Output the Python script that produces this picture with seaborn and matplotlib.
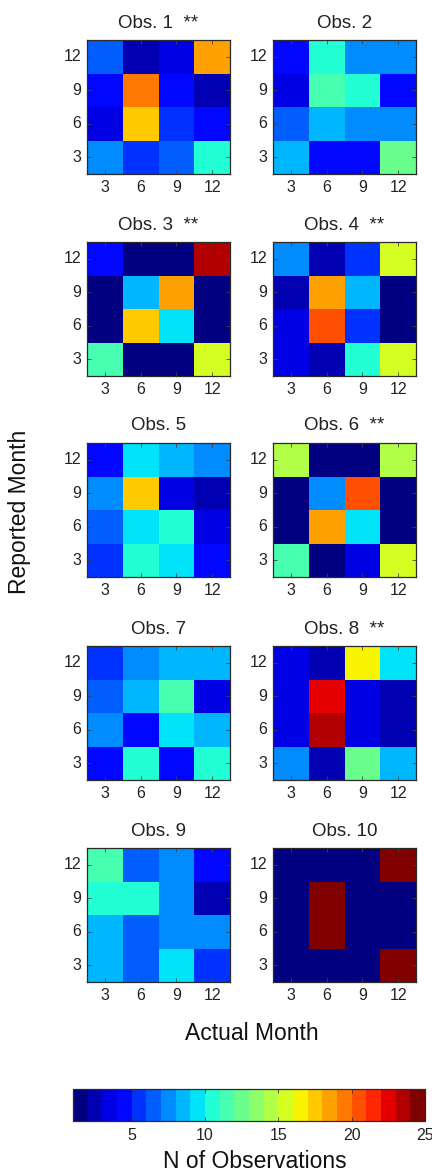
import numpy as np
import matplotlib
matplotlib.use("Agg")
import matplotlib.pyplot as plt
from matplotlib.colors import BoundaryNorm
import seaborn as sns

plt.rcParams['font.family'] = ['Liberation Sans', 'DejaVu Sans']

# ---------------- data ----------------
actual_months = [3, 6, 9, 12]
reported_months = [12, 9, 6, 3]   # rows top -> bottom
titles = ["Obs. 1  **", "Obs. 2", "Obs. 3  **", "Obs. 4  **", "Obs. 5",
          "Obs. 6  **", "Obs. 7", "Obs. 8  **", "Obs. 9", "Obs. 10"]

obs1 = [[6, 2, 3, 18], [4, 19, 4, 2], [3, 17, 5, 4], [7, 5, 6, 10]]
obs2 = [[4, 10, 7, 7], [3, 11, 10, 4], [6, 8, 7, 7], [8, 4, 4, 12]]
obs3 = [[4, 1, 1, 23], [1, 8, 18, 1], [1, 17, 9, 1], [11, 1, 1, 15]]
obs4 = [[7, 2, 5, 15], [2, 18, 8, 1], [3, 20, 5, 1], [3, 2, 10, 15]]
obs5 = [[4, 9, 8, 7], [7, 17, 3, 2], [6, 9, 10, 3], [5, 10, 9, 4]]
obs6 = [[14, 1, 1, 14], [1, 7, 20, 1], [1, 18, 9, 1], [11, 1, 3, 15]]
obs7 = [[5, 7, 8, 8], [6, 8, 11, 3], [7, 4, 9, 8], [4, 10, 4, 10]]
obs8 = [[3, 2, 16, 9], [3, 22, 3, 2], [3, 23, 3, 2], [7, 2, 12, 8]]
obs9 = [[11, 6, 7, 4], [10, 10, 7, 2], [8, 6, 7, 7], [8, 6, 9, 5]]
obs10 = [[1, 1, 1, 24], [1, 24, 1, 1], [1, 24, 1, 1], [1, 1, 1, 24]]
all_obs = [obs1, obs2, obs3, obs4, obs5, obs6, obs7, obs8, obs9, obs10]

cbar_min, cbar_max = 1, 25
cbar_ticks = [5, 10, 15, 20, 25]

# ---------------- figure ----------------
W, H = 432, 1173
fig = plt.figure(figsize=(W / 100, H / 100), dpi=100)

n_bins = cbar_max - cbar_min
cmap = plt.get_cmap('jet', n_bins)
norm = BoundaryNorm(np.arange(cbar_min, cbar_max + 1), n_bins)

col_left = [87, 273]
ax_w = 143
ax_h = 134
row_top = [40, 242, 443, 646, 848]

edge = '#2a2a2a'
mesh = None
for i, (data, title) in enumerate(zip(all_obs, titles)):
    r, c = divmod(i, 2)
    ax = fig.add_axes([col_left[c] / W, 1 - (row_top[r] + ax_h) / H, ax_w / W, ax_h / H])
    df = np.array(data)
    sns.heatmap(df, ax=ax, cmap=cmap, norm=norm, cbar=False,
                xticklabels=actual_months, yticklabels=reported_months)
    mesh = ax.collections[0]
    for sp in ax.spines.values():
        sp.set_visible(True)
        sp.set_color(edge)
        sp.set_linewidth(0.9)
    ax.tick_params(direction='in', length=3, width=0.6, color='#444444',
                   top=True, right=True, labelsize=11.5, pad=4,
                   labelcolor='#222222')
    plt.setp(ax.get_yticklabels(), rotation=0)
    plt.setp(ax.get_xticklabels(), rotation=0)
    ax.set_title(title, fontsize=13.5, pad=9, color='#222222')

fig.text(20 / W, 1 - 512 / H, "Reported Month", rotation=90,
         ha='center', va='center', fontsize=16.5, color='#111111')
fig.text(252 / W, 1 - 1033 / H, "Actual Month",
         ha='center', va='center', fontsize=16.5, color='#111111')

cax = fig.add_axes([73 / W, 1 - 1121 / H, 352 / W, 32 / H])
cb = fig.colorbar(mesh, cax=cax, orientation='horizontal', ticks=cbar_ticks)
cb.minorticks_off()
cb.outline.set_edgecolor(edge)
cb.outline.set_linewidth(0.9)
cax.tick_params(which='minor', length=0)
cax.tick_params(which='major', direction='in', length=3, width=0.6, color='#333333',
                top=True, bottom=True, labelsize=11.5, pad=5, labelcolor='#222222')
fig.text(255 / W, 1 - 1162 / H, "N of Observations",
         ha='center', va='center', fontsize=16.5, color='#111111')

fig.savefig("out.png", dpi=100)
